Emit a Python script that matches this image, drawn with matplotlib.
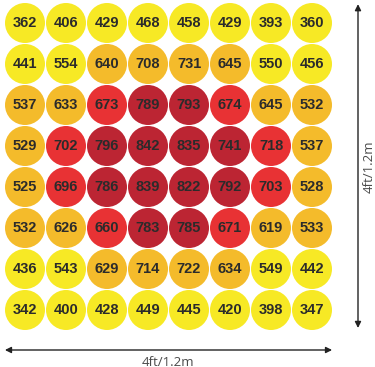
import matplotlib
matplotlib.use("Agg")
import matplotlib.pyplot as plt
from matplotlib.patches import Circle
import numpy as np

# ─── data ─────────────────────────────────────────────────────────────────────
VALUES = [
    [362, 406, 429, 468, 458, 429, 393, 360],
    [441, 554, 640, 708, 731, 645, 550, 456],
    [537, 633, 673, 789, 793, 674, 645, 532],
    [529, 702, 796, 842, 835, 741, 718, 537],
    [525, 696, 786, 839, 822, 792, 703, 528],
    [532, 626, 660, 783, 785, 671, 619, 533],
    [436, 543, 629, 714, 722, 634, 549, 442],
    [342, 400, 428, 449, 445, 420, 398, 347],
]
# colour band per cell: 0 yellow, 1 orange, 2 red, 3 dark red
LEVELS = [
    [0, 0, 0, 0, 0, 0, 0, 0],
    [0, 0, 1, 1, 1, 1, 0, 0],
    [1, 1, 2, 3, 3, 2, 1, 1],
    [1, 2, 3, 3, 3, 3, 2, 1],
    [1, 2, 3, 3, 3, 3, 2, 1],
    [1, 1, 2, 3, 3, 2, 1, 1],
    [0, 0, 1, 1, 1, 1, 0, 0],
    [0, 0, 0, 0, 0, 0, 0, 0],
]
SIZE_LABEL = "4ft/1.2m"

# ─── style ────────────────────────────────────────────────────────────────────
BAND_COLORS = ["#F7E925", "#F4BB2B", "#E83234", "#BC2533"]
C_TEXT = "#2B2B2B"
C_AXIS = "#222222"

vals = np.array(VALUES)
levels = np.array(LEVELS)
nrows, ncols = vals.shape

fig = plt.figure(figsize=(3.75, 3.67), dpi=100)
ax = fig.add_axes([0, 0, 1, 1])
step = 41.0
ax.set_xlim(-25 / step, (375 - 25) / step)
ax.set_ylim((367 - 23) / step, -23 / step)
ax.axis("off")

for r in range(nrows):
    for c in range(ncols):
        ax.add_patch(Circle((c, r), 20 / step, facecolor=BAND_COLORS[levels[r, c]],
                            edgecolor="none"))
        ax.text(c, r + 0.01, str(vals[r, c]), ha="center", va="center",
                fontsize=10.5, fontweight="bold", color=C_TEXT,
                family="Liberation Sans")

# ── dimension arrows ─────────────────────────────────────────────────────────
y_arrow = (350 - 23) / step
ax.annotate("", xy=(ncols - 1 + 0.49, y_arrow), xytext=(-0.49, y_arrow),
            arrowprops=dict(arrowstyle="<|-|>", color=C_AXIS, lw=1.0,
                            mutation_scale=9, shrinkA=0, shrinkB=0))
ax.text((ncols - 1) / 2, (362 - 23) / step, SIZE_LABEL, ha="center", va="center",
        fontsize=9.5, color="#4a4a4a", family="Open Sans")

x_arrow = (358 - 25) / step
ax.annotate("", xy=(x_arrow, -0.46), xytext=(x_arrow, (328 - 23) / step),
            arrowprops=dict(arrowstyle="<|-|>", color=C_AXIS, lw=1.0,
                            mutation_scale=9, shrinkA=0, shrinkB=0))
ax.text((369 - 25) / step, (nrows - 1) / 2, SIZE_LABEL, ha="center", va="center",
        rotation=90, fontsize=9.5, color="#4a4a4a", family="Open Sans")

fig.savefig("out.png", dpi=100)
